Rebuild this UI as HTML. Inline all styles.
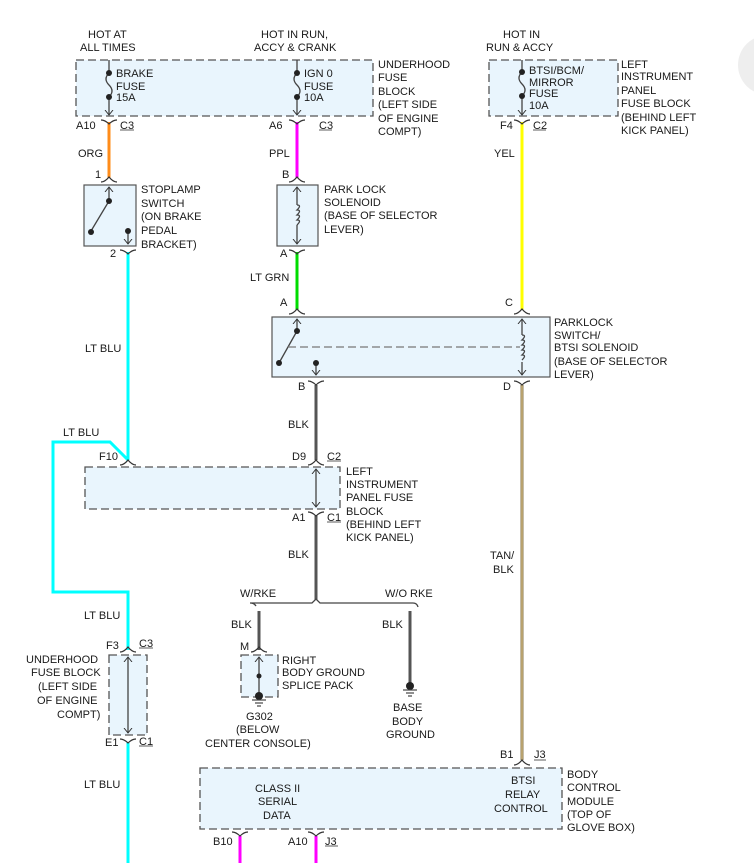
<!DOCTYPE html>
<html><head><meta charset="utf-8"><style>
html,body{margin:0;padding:0;background:#fff;}
svg{display:block;}
text{font-family:"Liberation Sans",Arial,sans-serif;font-size:11px;fill:#1a1a1a;}
</style></head><body>
<svg width="754" height="863" viewBox="0 0 754 863" xmlns="http://www.w3.org/2000/svg">
<defs>
<marker id="ah" markerWidth="10" markerHeight="10" refX="5" refY="5" orient="auto" markerUnits="userSpaceOnUse">
<path d="M0,1 L5,5 L0,9" fill="none" stroke="#333" stroke-width="1"/></marker>
</defs>
<circle cx="768" cy="65" r="30" fill="#eeeeee"/>
<g stroke="#555" stroke-width="1.3" stroke-dasharray="8,4" fill="#e9f5fd">
<rect x="76" y="60" width="297" height="56"/>
<rect x="489" y="60" width="129" height="56"/>
<rect x="85" y="467" width="255" height="42"/>
<rect x="241" y="655" width="37" height="42"/>
<rect x="109" y="655" width="38" height="80"/>
<rect x="200" y="768" width="362" height="61"/>
</g>
<g stroke="#555" stroke-width="1.2" fill="#e9f5fd">
<rect x="84" y="185" width="52" height="61"/>
<rect x="277" y="185" width="41" height="61"/>
<rect x="272" y="317" width="278" height="60"/>
</g>
<!-- wires -->
<g fill="none" stroke-width="3">
<line x1="109" y1="122" x2="109" y2="178" stroke="#ff8c1a"/>
<line x1="297" y1="122" x2="297" y2="178" stroke="#ff00ff"/>
<line x1="522" y1="122" x2="522" y2="310" stroke="#ffff00"/>
<line x1="297" y1="252" x2="297" y2="310" stroke="#00dd00"/>
<line x1="128" y1="252" x2="128" y2="460" stroke="#00ffff"/>
<polyline points="128,460 110,442 53,442 53,592 128,592 128,650" stroke="#00ffff"/>
<line x1="128" y1="742" x2="128" y2="863" stroke="#00ffff"/>
<line x1="316" y1="385" x2="316" y2="460" stroke="#555"/>
<line x1="316" y1="515" x2="316" y2="600" stroke="#555"/>
<line x1="259" y1="611" x2="259" y2="650" stroke="#555"/>
<line x1="410" y1="611" x2="410" y2="684" stroke="#555"/>
<line x1="522" y1="385" x2="522" y2="760" stroke="#8a7a50"/>
<line x1="522" y1="385" x2="522" y2="760" stroke="#c8b078" stroke-width="1.5"/>
<line x1="240" y1="836" x2="240" y2="863" stroke="#ff00ff"/>
<line x1="316" y1="836" x2="316" y2="863" stroke="#ff00ff"/>
</g>
<!-- internal lines -->
<g stroke="#444" stroke-width="1.3" fill="none">
<line x1="109" y1="60" x2="109" y2="73"/><path d="M109,73 q-6,6 0,12 q6,6 0,12"/><line x1="109" y1="97" x2="109" y2="115" marker-end="url(#ah)"/>
<line x1="297" y1="60" x2="297" y2="73"/><path d="M297,73 q-6,6 0,12 q6,6 0,12"/><line x1="297" y1="97" x2="297" y2="115" marker-end="url(#ah)"/>
<line x1="522" y1="60" x2="522" y2="72"/><path d="M522,72 q-6,6 0,12 q6,6 0,12"/><line x1="522" y1="96" x2="522" y2="115" marker-end="url(#ah)"/>
<line x1="109" y1="200" x2="109" y2="187" marker-end="url(#ah)"/><line x1="109" y1="201" x2="91" y2="231"/>
<line x1="128" y1="232" x2="128" y2="244" marker-end="url(#ah)"/>
<line x1="297" y1="205" x2="297" y2="187" marker-end="url(#ah)"/><line x1="297" y1="225" x2="297" y2="244" marker-end="url(#ah)"/>
<path d="M297,205 q5,0 0,5 q5,0 0,5 q5,0 0,5 q5,0 0,5"/>
<line x1="297" y1="331" x2="297" y2="319" marker-end="url(#ah)"/><line x1="297" y1="331" x2="279" y2="363"/>
<line x1="316" y1="363" x2="316" y2="375" marker-end="url(#ah)"/>
<line x1="522" y1="335" x2="522" y2="319" marker-end="url(#ah)"/><line x1="522" y1="362" x2="522" y2="375" marker-end="url(#ah)"/>
<path d="M522,335 q5,0 0,5 q5,0 0,5 q5,0 0,5 q5,0 0,5 q5,0 0,5"/>
<line x1="288" y1="347" x2="520" y2="347" stroke-dasharray="8,4" stroke="#777"/>
<line x1="316" y1="488" x2="316" y2="469" marker-end="url(#ah)"/><line x1="316" y1="488" x2="316" y2="507" marker-end="url(#ah)"/>
<line x1="128" y1="695" x2="128" y2="657" marker-end="url(#ah)"/><line x1="128" y1="695" x2="128" y2="733" marker-end="url(#ah)"/>
<line x1="259" y1="675" x2="259" y2="657" marker-end="url(#ah)"/><line x1="259" y1="675" x2="259" y2="695"/>
<path d="M250,603 q4,0 6,3 M250,603 L312,603 l4,-4 l4,4 L413,603 q4,0 5,4"/>
</g>
<g fill="#222">
<circle cx="109" cy="73" r="3"/><circle cx="109" cy="97" r="3"/>
<circle cx="297" cy="73" r="3"/><circle cx="297" cy="97" r="3"/>
<circle cx="522" cy="72" r="3"/><circle cx="522" cy="96" r="3"/>
<circle cx="109" cy="201" r="3"/><circle cx="91" cy="232" r="3"/><circle cx="128" cy="231" r="3"/>
<circle cx="297" cy="331" r="3"/><circle cx="279" cy="363" r="3"/><circle cx="316" cy="363" r="3"/>
<circle cx="259" cy="676" r="2.5"/><circle cx="259" cy="696" r="4"/><circle cx="410" cy="686" r="4"/>
</g>
<g stroke="#444" stroke-width="1.2">
<line x1="252" y1="700" x2="266" y2="700"/><line x1="255" y1="703" x2="263" y2="703"/><line x1="257" y1="706" x2="261" y2="706"/>
<line x1="403" y1="690" x2="417" y2="690"/><line x1="406" y1="693" x2="414" y2="693"/><line x1="408" y1="696" x2="412" y2="696"/>
</g>
<!-- connectors -->
<g stroke="#333" stroke-width="1.2" fill="none">
<path d="M101,120 q4,0 8,4 q4,-4 8,-4"/><path d="M289,120 q4,0 8,4 q4,-4 8,-4"/><path d="M514,120 q4,0 8,4 q4,-4 8,-4"/>
<path d="M101,182 q4,0 8,-5 q4,5 8,5"/><path d="M289,182 q4,0 8,-5 q4,5 8,5"/>
<path d="M120,250 q4,0 8,4 q4,-4 8,-4"/><path d="M289,250 q4,0 8,4 q4,-4 8,-4"/>
<path d="M289,314 q4,0 8,-5 q4,5 8,5"/><path d="M514,314 q4,0 8,-5 q4,5 8,5"/>
<path d="M308,381 q4,0 8,4 q4,-4 8,-4"/><path d="M514,381 q4,0 8,4 q4,-4 8,-4"/>
<path d="M120,465 q4,0 8,-5 q4,5 8,5"/><path d="M308,465 q4,0 8,-5 q4,5 8,5"/>
<path d="M308,512 q4,0 8,4 q4,-4 8,-4"/>
<path d="M251,652 q4,0 8,-5 q4,5 8,5"/><path d="M120,652 q4,0 8,-5 q4,5 8,5"/>
<path d="M120,739 q4,0 8,4 q4,-4 8,-4"/>
<path d="M514,765 q4,0 8,-5 q4,5 8,5"/>
<path d="M232,832 q4,0 8,4 q4,-4 8,-4"/><path d="M308,832 q4,0 8,4 q4,-4 8,-4"/>
</g>
<g stroke="#333" stroke-width="0.8">
<line x1="120" y1="130" x2="134" y2="130"/><line x1="319" y1="130" x2="332" y2="130"/><line x1="533" y1="130" x2="546" y2="130"/>
<line x1="327" y1="461" x2="341" y2="461"/><line x1="327" y1="522" x2="341" y2="522"/>
<line x1="139" y1="648" x2="153" y2="648"/><line x1="139" y1="746" x2="153" y2="746"/>
<line x1="534" y1="760" x2="546" y2="760"/><line x1="325" y1="846" x2="338" y2="846"/>
</g>
<!-- text -->
<text x="88" y="38">HOT AT</text><text x="80" y="51">ALL TIMES</text>
<text x="261" y="38">HOT IN RUN,</text><text x="254" y="51">ACCY &amp; CRANK</text>
<text x="503" y="38">HOT IN</text><text x="486" y="51">RUN &amp; ACCY</text>
<text x="116" y="77">BRAKE</text><text x="116" y="90">FUSE</text><text x="116" y="101">15A</text>
<text x="304" y="77">IGN 0</text><text x="304" y="90">FUSE</text><text x="304" y="101">10A</text>
<text x="529" y="74">BTSI/BCM/</text><text x="529" y="86">MIRROR</text><text x="529" y="97">FUSE</text><text x="529" y="109">10A</text>
<text x="378" y="68">UNDERHOOD</text><text x="378" y="81">FUSE</text><text x="378" y="95">BLOCK</text><text x="378" y="108">(LEFT SIDE</text><text x="378" y="122">OF ENGINE</text><text x="378" y="135">COMPT)</text>
<text x="621" y="68">LEFT</text><text x="621" y="80">INSTRUMENT</text><text x="621" y="94">PANEL</text><text x="621" y="107">FUSE BLOCK</text><text x="621" y="121">(BEHIND LEFT</text><text x="621" y="134">KICK PANEL)</text>
<text x="76" y="129">A10</text><text x="120" y="129">C3</text>
<text x="269" y="129">A6</text><text x="319" y="129">C3</text>
<text x="500" y="129">F4</text><text x="533" y="129">C2</text>
<text x="78" y="157">ORG</text><text x="269" y="157">PPL</text><text x="494" y="157">YEL</text>
<text x="95" y="178">1</text><text x="282" y="178">B</text>
<text x="141" y="193">STOPLAMP</text><text x="141" y="207">SWITCH</text><text x="141" y="220">(ON BRAKE</text><text x="141" y="234">PEDAL</text><text x="141" y="248">BRACKET)</text>
<text x="324" y="193">PARK LOCK</text><text x="324" y="206">SOLENOID</text><text x="324" y="219">(BASE OF SELECTOR</text><text x="324" y="233">LEVER)</text>
<text x="110" y="257">2</text><text x="280" y="257">A</text>
<text x="250" y="281">LT GRN</text>
<text x="280" y="306">A</text><text x="505" y="306">C</text>
<text x="554" y="326">PARKLOCK</text><text x="554" y="339">SWITCH/</text><text x="554" y="351">BTSI SOLENOID</text><text x="554" y="365">(BASE OF SELECTOR</text><text x="554" y="378">LEVER)</text>
<text x="85" y="352">LT BLU</text>
<text x="298" y="390">B</text><text x="503" y="390">D</text>
<text x="288" y="428">BLK</text>
<text x="63" y="436">LT BLU</text>
<text x="99" y="460">F10</text><text x="292" y="460">D9</text><text x="327" y="460">C2</text>
<text x="346" y="475">LEFT</text><text x="346" y="488">INSTRUMENT</text><text x="346" y="501">PANEL FUSE</text><text x="346" y="515">BLOCK</text><text x="346" y="528">(BEHIND LEFT</text><text x="346" y="541">KICK PANEL)</text>
<text x="292" y="521">A1</text><text x="327" y="521">C1</text>
<text x="288" y="558">BLK</text>
<text x="490" y="559">TAN/</text><text x="493" y="573">BLK</text>
<text x="240" y="597">W/RKE</text><text x="385" y="597">W/O RKE</text>
<text x="84" y="619">LT BLU</text>
<text x="231" y="628">BLK</text><text x="382" y="628">BLK</text>
<text x="106" y="649">F3</text><text x="139" y="647">C3</text>
<text x="240" y="650">M</text>
<text x="26" y="663">UNDERHOOD</text><text x="31" y="676">FUSE BLOCK</text><text x="38" y="690">(LEFT SIDE</text><text x="37" y="704">OF ENGINE</text><text x="57" y="718">COMPT)</text>
<text x="282" y="664">RIGHT</text><text x="282" y="676">BODY GROUND</text><text x="282" y="689">SPLICE PACK</text>
<text x="393" y="711">BASE</text><text x="392" y="725">BODY</text><text x="386" y="738">GROUND</text>
<text x="246" y="720">G302</text><text x="236" y="733">(BELOW</text><text x="205" y="747">CENTER CONSOLE)</text>
<text x="105" y="746">E1</text><text x="139" y="745">C1</text>
<text x="84" y="788">LT BLU</text>
<text x="500" y="758">B1</text><text x="534" y="758">J3</text>
<text x="567" y="778">BODY</text><text x="567" y="791">CONTROL</text><text x="567" y="805">MODULE</text><text x="567" y="818">(TOP OF</text><text x="567" y="831">GLOVE BOX)</text>
<text x="255" y="792">CLASS II</text><text x="258" y="805">SERIAL</text><text x="263" y="819">DATA</text>
<text x="511" y="784">BTSI</text><text x="505" y="798">RELAY</text><text x="494" y="812">CONTROL</text>
<text x="213" y="845">B10</text><text x="288" y="845">A10</text><text x="325" y="845">J3</text>
</svg>
</body></html>
